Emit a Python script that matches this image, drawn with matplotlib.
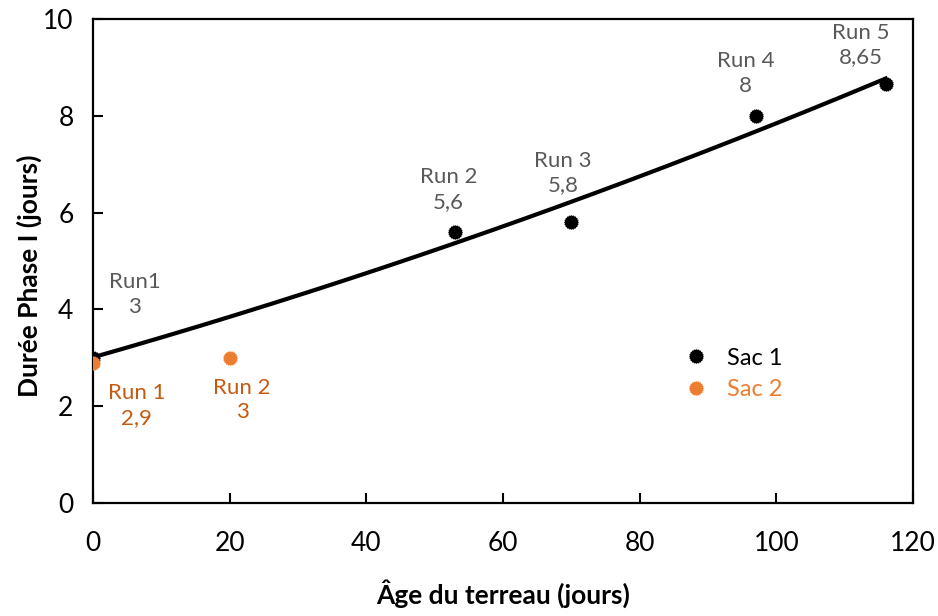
import numpy as np
import matplotlib
matplotlib.use("Agg")
import matplotlib.pyplot as plt
from matplotlib.path import Path

plt.rcParams['font.family'] = ['Lato', 'DejaVu Sans']

# Sac 1 series
sac1_x = [0, 53, 70, 97, 116]
sac1_y = [3.0, 5.6, 5.8, 8.0, 8.65]
sac1_runs = ["Run1", "Run 2", "Run 3", "Run 4", "Run 5"]
sac1_vals = ["3", "5,6", "5,8", "8", "8,65"]

# Sac 2 series
sac2_x = [0, 20]
sac2_y = [2.9, 3.0]
sac2_runs = ["Run 1", "Run 2"]
sac2_vals = ["2,9", "3"]

BLACK = "#000000"
ORANGE = "#ED7D31"
ORANGE_TXT = "#C55A11"
GRAY_TXT = "#595959"

# jagged round marker
n = 20
ang = np.linspace(0, 2 * np.pi, 2 * n, endpoint=False)
rad = np.where(np.arange(2 * n) % 2 == 0, 1.0, 0.86)
verts = np.column_stack([rad * np.cos(ang), rad * np.sin(ang)])
verts = np.vstack([verts, verts[:1]])
codes = [Path.MOVETO] + [Path.LINETO] * (2 * n - 1) + [Path.CLOSEPOLY]
jag = Path(verts, codes)

fig = plt.figure(figsize=(9.38, 6.16), dpi=100)
ax = fig.add_axes([93 / 938, 1 - 503 / 616, (913 - 93) / 938, (503 - 19) / 616])

# quadratic trend through Sac 1
coef = np.polyfit(sac1_x, sac1_y, 2)
xs = np.linspace(min(sac1_x), max(sac1_x), 200)
ax.plot(xs, np.polyval(coef, xs), color=BLACK, lw=3.0, zorder=2)

ax.plot(sac1_x, sac1_y, linestyle="none", marker=jag, markersize=9.5,
        color=BLACK, label="Sac 1", zorder=3)
ax.plot(sac2_x, sac2_y, linestyle="none", marker=jag, markersize=9.5,
        color=ORANGE, label="Sac 2", zorder=4)

# data labels (offsets of the label centre from its point)
sac1_off = [(6.1, 1.31), (-1.0, 0.88), (-1.2, 1.02), (-1.5, 0.88), (-3.6, 0.81)]
for x, y, r, v, (dx, dy) in zip(sac1_x, sac1_y, sac1_runs, sac1_vals, sac1_off):
    ax.text(x + dx, y + dy, f"{r}\n{v}", ha="center", va="center",
            color=GRAY_TXT, fontsize=16, linespacing=1.3)
sac2_off = [(6.4, -0.89), (1.8, -0.87)]
for x, y, r, v, (dx, dy) in zip(sac2_x, sac2_y, sac2_runs, sac2_vals, sac2_off):
    ax.text(x + dx, y + dy, f"{r}\n{v}", ha="center", va="center",
            color=ORANGE_TXT, fontsize=16, linespacing=1.3)

ax.set_xlim(0, 120)
ax.set_ylim(0, 10)
ax.set_xticks(np.arange(0, 121, 20))
ax.set_yticks(np.arange(0, 11, 2))
ax.tick_params(direction="in", length=7, width=1.5, labelsize=19)
ax.tick_params(axis="x", pad=20)
ax.tick_params(axis="y", pad=14)
for s in ax.spines.values():
    s.set_linewidth(1.6)

ax.set_xlabel("Âge du terreau (jours)", fontsize=19, fontweight="bold", labelpad=17)
ax.set_ylabel("Durée Phase I (jours)", fontsize=19, fontweight="bold")
ax.yaxis.set_label_coords(-51 / 820, 0.47)

leg = ax.legend(loc="upper left", bbox_to_anchor=(0.695, 0.365), frameon=False,
                fontsize=17, handletextpad=0.8, labelspacing=0.45,
                handlelength=1.0)
for txt, c in zip(leg.get_texts(), [BLACK, ORANGE]):
    txt.set_color(c)

fig.savefig("out.png", dpi=100)
